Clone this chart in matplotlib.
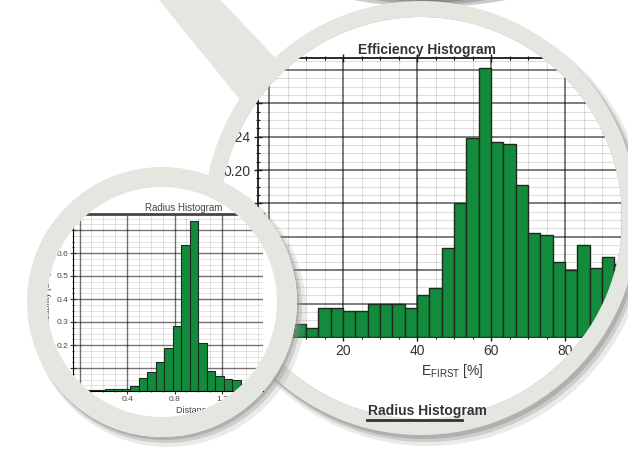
import numpy as np
import matplotlib.pyplot as plt
from matplotlib.patches import Circle, Polygon, Ellipse, Annulus, PathPatch
from matplotlib.path import Path
from matplotlib.ticker import MultipleLocator, FixedLocator, FormatStrFormatter

plt.rcParams['font.family'] = ['Liberation Sans', 'DejaVu Sans']

# Efficiency histogram, 30 bins over 0..100 %
eff_edges = np.linspace(0, 100, 31)
eff_vals = [0.012, 0.014, 0.016, 0.011, 0.035, 0.035, 0.031, 0.031, 0.040, 0.040,
            0.040, 0.035, 0.050, 0.059, 0.106, 0.160, 0.238, 0.322, 0.234, 0.231,
            0.182, 0.125, 0.122, 0.090, 0.080, 0.110, 0.083, 0.096, 0.088, 0.075]

# Radius histogram, bins of 1/14
rad_edges = np.arange(22) / 14
rad_vals = [0.006, 0.006, 0.006, 0.007, 0.007, 0.009, 0.022, 0.058, 0.084, 0.127,
            0.188, 0.284, 0.635, 0.740, 0.207, 0.088, 0.067, 0.051, 0.048, 0.030,
            0.020]
rad_xticks = [0.0, 0.4, 0.8, 1.2]
rad_yticks = [0.1, 0.2, 0.3, 0.4, 0.5, 0.6, 0.7]

W, H = 628, 449
RING = '#e4e6e0'
GREEN = '#128c3c'
EDGE = '#1d2a1d'
TXT = '#333333'

big_c, big_rin, big_rout = (421, 218), 201, 217
small_c, small_rin, small_rout = (162, 302), 115, 135

fig = plt.figure(figsize=(W / 100, H / 100), dpi=100)


def layer(z):
    a = fig.add_axes([0, 0, 1, 1], zorder=z, label='layer%d' % z)
    a.set_xlim(0, W)
    a.set_ylim(H, 0)
    a.axis('off')
    return a


def px_axes(x0, x1, y0, y1, z):
    return fig.add_axes([x0 / W, 1 - y1 / H, (x1 - x0) / W, (y1 - y0) / H], zorder=z)


def circle_pts(c, r, reverse=False):
    th = np.linspace(0, 2 * np.pi, 361)
    if reverse:
        th = th[::-1]
    return np.column_stack([c[0] + r * np.cos(th), c[1] + r * np.sin(th)])


def with_hole(outer, **kw):
    # outer outline minus the big glass
    hole = circle_pts(big_c, big_rin, reverse=True)
    verts = np.vstack([outer, hole])
    codes = ([Path.MOVETO] + [Path.LINETO] * (len(outer) - 2) + [Path.CLOSEPOLY]
             + [Path.MOVETO] + [Path.LINETO] * (len(hole) - 2) + [Path.CLOSEPOLY])
    return PathPatch(Path(verts, codes), **kw)


def style_grid(a, lw_major, lw_minor):
    a.grid(which='major', color='black', alpha=0.55, lw=lw_major)
    a.grid(which='minor', color='black', alpha=0.13, lw=lw_minor)
    a.set_axisbelow(True)


# big efficiency chart (masked afterwards by the lens)
ax = px_axes(258, 628, 58, 337, 1)
ax.bar(eff_edges[:-1], eff_vals, width=np.diff(eff_edges), align='edge',
       color=GREEN, edgecolor=EDGE, linewidth=1, zorder=3)
ax.set_xlim((258 - 269) / 3.7, (628 - 269) / 3.7)
ax.set_ylim(0, (337 - 58) * 0.04 / 33.4)
ax.xaxis.set_major_locator(MultipleLocator(20))
ax.xaxis.set_minor_locator(MultipleLocator(5))
ax.yaxis.set_major_locator(MultipleLocator(0.04))
ax.yaxis.set_minor_locator(MultipleLocator(0.01))
ax.yaxis.set_major_formatter(FormatStrFormatter('%.2f'))
style_grid(ax, 1.3, 0.8)
ax.spines['right'].set_visible(False)
for s in ['left', 'top', 'bottom']:
    ax.spines[s].set_linewidth(1.3)
    ax.spines[s].set_color('#1a1a1a')
ax.tick_params(which='both', direction='inout', top=True, labelsize=10,
               labelcolor=TXT, color='#1a1a1a', pad=2)
ax.tick_params(which='major', length=6, width=1)
ax.tick_params(which='minor', length=3, width=0.8)
ax.set_title('Efficiency Histogram', fontsize=10, fontweight='bold', color=TXT,
             pad=3, x=(427 - 258) / 370)
ax.set_xlabel(r'E$_{\mathregular{FIRST}}$ [%]', fontsize=10, color=TXT, labelpad=3)
ax.xaxis.label.set_x((452 - 258) / 370)

# lens mask: white everywhere except inside the big glass
mask = layer(2)
frame = np.array([[-10, -10], [W + 10, -10], [W + 10, H + 10], [-10, H + 10], [-10, -10]])
mask.add_patch(with_hole(frame, facecolor='white', edgecolor='none'))
for dx, dr, a in [(7, 3, 0.18), (5, 1, 0.3), (3, 0, 0.45)]:
    shade = circle_pts((big_c[0] + dx, big_c[1] + dx + 1), big_rout + dr)
    mask.add_patch(with_hole(shade, facecolor='#8d8f8a', alpha=a, edgecolor='none'))
for w, h in [(290, 94), (240, 90), (190, 86), (140, 82)]:
    mask.add_patch(Ellipse((430, -40), w, h, color='#575757', alpha=0.3, lw=0))
mask.add_patch(Polygon([(155, -5), (216, -5), (281, 64), (245, 106)], closed=True,
                       color=RING, lw=0))
mask.add_patch(Annulus(big_c, big_rout, big_rout - big_rin, color=RING, lw=0))
mask.text(427, 411, 'Radius Histogram', ha='center', va='center', fontsize=10,
          fontweight='bold', color=TXT)
mask.plot([367, 462], [420, 420], color='#333', lw=2)

# small lens base
base = layer(3)
for dx, dr, a in [(6, 3, 0.18), (4, 1, 0.3), (2, 0, 0.45)]:
    base.add_patch(Circle((small_c[0] + dx, small_c[1] + dx + 1), small_rout + dr,
                          color='#8d8f8a', alpha=a, lw=0))
base.add_patch(Circle(small_c, small_rout, color='white', lw=0))

# small radius chart
axs = px_axes(73, 263, 214, 391, 4)
axs.bar(rad_edges[:-1], rad_vals, width=np.diff(rad_edges), align='edge',
        color=GREEN, edgecolor=EDGE, linewidth=0.8, zorder=3)
axs.set_xlim((73 - 79.5) / 118.75, (263 - 79.5) / 118.75)
axs.set_ylim(0, (391 - 214) / 230)
axs.xaxis.set_major_locator(FixedLocator(rad_xticks))
axs.xaxis.set_minor_locator(MultipleLocator(0.1))
axs.yaxis.set_major_locator(FixedLocator(rad_yticks))
axs.yaxis.set_minor_locator(MultipleLocator(0.025))
axs.xaxis.set_major_formatter(FormatStrFormatter('%.1f'))
axs.yaxis.set_major_formatter(FormatStrFormatter('%.1f'))
style_grid(axs, 1.0, 0.6)
axs.spines['right'].set_visible(False)
axs.spines['top'].set_linewidth(2)
axs.spines['top'].set_color('#454545')
axs.tick_params(which='both', direction='inout', labelsize=6, labelcolor='#444',
                color='#333', pad=1.5)
axs.tick_params(which='major', length=4, width=0.8)
axs.tick_params(which='minor', length=2, width=0.6)
axs.set_title('Radius Histogram', fontsize=7, color='#444', pad=2, x=(184 - 73) / 190)
axs.set_xlabel('Distance [Å]', fontsize=6.5, color='#444', labelpad=2)
axs.xaxis.label.set_x((200 - 73) / 190)
axs.set_ylabel('Probability [1/Å]', fontsize=6, color='#444', labelpad=3)

top = layer(5)
top.add_patch(Annulus(small_c, small_rout, small_rout - small_rin, color=RING, lw=0))

fig.savefig('out.png', dpi=100)
